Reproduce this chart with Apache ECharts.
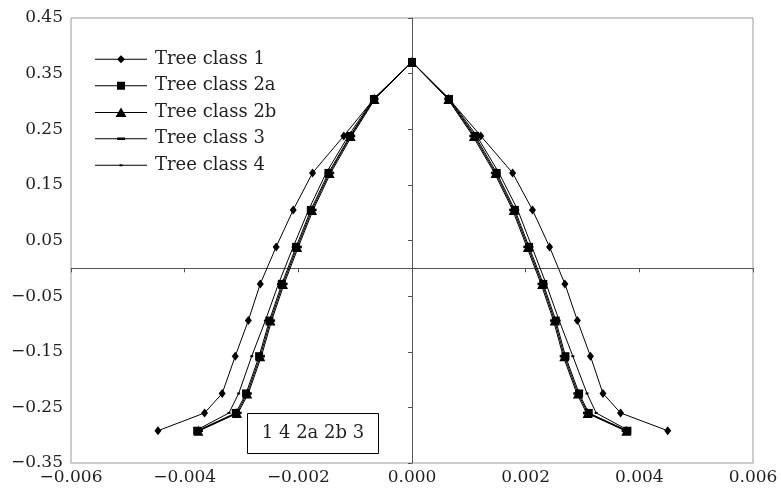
<!DOCTYPE html>
<html>
<head>
<meta charset="utf-8">
<script src="https://cdn.jsdelivr.net/npm/echarts@6/dist/echarts.min.js"></script>
<style>
  html, body { margin: 0; padding: 0; background: #fff; }
  #chart { width: 781px; height: 491px; }
</style>
</head>
<body>
<div id="chart"></div>
<script>
// Profile path: up the left flank, through the apex, down the right flank
const levelY = [-0.292, -0.260, -0.225, -0.158, -0.094, -0.028, 0.0385, 0.105, 0.1715, 0.238, 0.3045,
                0.371,
                0.3045, 0.238, 0.1715, 0.105, 0.0385, -0.028, -0.094, -0.158, -0.225, -0.260, -0.292];

const xClass1  = [-0.00447, -0.00365, -0.00334, -0.00311, -0.00288, -0.00267, -0.00239, -0.00209, -0.00175, -0.00120, -0.00067,
                  0,
                  0.00065, 0.00121, 0.00177, 0.00212, 0.00242, 0.00269, 0.00291, 0.00314, 0.00336, 0.00367, 0.00450];
const xClass2a = [-0.00378, -0.00310, -0.00292, -0.00269, -0.00251, -0.00229, -0.00204, -0.00178, -0.00147, -0.00109, -0.00067,
                  0,
                  0.00065, 0.00111, 0.00149, 0.00181, 0.00206, 0.00231, 0.00253, 0.00270, 0.00294, 0.00311, 0.00379];
const xClass2b = [-0.00376, -0.00308, -0.00290, -0.00267, -0.00249, -0.00227, -0.00202, -0.00176, -0.00145, -0.00108, -0.00066,
                  0,
                  0.00064, 0.00109, 0.00147, 0.00179, 0.00204, 0.00229, 0.00251, 0.00268, 0.00292, 0.00309, 0.00377];
const xClass3  = [-0.00374, -0.00306, -0.00288, -0.00265, -0.00247, -0.00225, -0.00200, -0.00174, -0.00143, -0.00106, -0.00065,
                  0,
                  0.00063, 0.00107, 0.00145, 0.00177, 0.00202, 0.00227, 0.00249, 0.00266, 0.00290, 0.00307, 0.00375];
const xClass4  = [-0.00381, -0.00322, -0.00305, -0.00282, -0.00258, -0.00235, -0.00209, -0.00182, -0.00151, -0.00112, -0.00068,
                  0,
                  0.00066, 0.00114, 0.00153, 0.00186, 0.00211, 0.00236, 0.00259, 0.00283, 0.00308, 0.00324, 0.00382];

const seriesNames = ['Tree class 1', 'Tree class 2a', 'Tree class 2b', 'Tree class 3', 'Tree class 4'];
const boxLabel = '1 4 2a 2b 3';

const xTicks = { min: -0.006, max: 0.006, step: 0.002 };
const yTicks = { min: -0.35, max: 0.45, step: 0.1 };

const FONT = 'DejaVu Serif';
const INK = '#231f20';

function pairs(xs) { return xs.map((x, i) => [x, levelY[i]]); }
function minusSign(s) { return s.replace('-', '\u2212'); }

const markers = [
  { symbol: 'diamond', size: [7, 9] },
  { symbol: 'rect', size: 8 },
  { symbol: 'triangle', size: 10 },
  { symbol: 'rect', size: [7, 2.5] },
  { symbol: 'rect', size: [3, 2] }
];
const xs = [xClass1, xClass2a, xClass2b, xClass3, xClass4];

// Legend keys: a 52px rule with the series marker at its middle
const RULE = 'M0 5.5 H52 V6.5 H0 Z ';
const legendIcons = [
  'path://' + RULE + 'M26 2 L30 6 L26 10 L22 6 Z',
  'path://' + RULE + 'M22 2 H30 V10 H22 Z',
  'path://' + RULE + 'M26 1 L31.5 10.5 L20.5 10.5 Z',
  'path://' + RULE + 'M22 4.75 H30 V7.25 H22 Z',
  'path://' + RULE + 'M24.5 5 H27.5 V7 H24.5 Z'
];

const chart = echarts.init(document.getElementById('chart'), null, { renderer: 'canvas' });

chart.setOption({
  animation: false,
  backgroundColor: '#fff',
  grid: { left: 71, right: 28, top: 18, bottom: 28, show: true, borderColor: '#9a9a9a', borderWidth: 1, containLabel: false },
  legend: {
    orient: 'vertical', left: 90, top: 45,
    itemWidth: 52, itemHeight: 12, itemGap: 8,
    symbolKeepAspect: true,
    itemStyle: { color: '#000', borderWidth: 0 },
    data: seriesNames.map((name, i) => ({ name, icon: legendIcons[i] })),
    textStyle: { fontFamily: FONT, fontSize: 18, color: INK, lineHeight: 18.5, padding: [0, 0, 0, 3] }
  },
  xAxis: [
    {
      type: 'value', position: 'bottom', min: xTicks.min, max: xTicks.max, interval: xTicks.step,
      axisLine: { show: false, onZero: false }, axisTick: { show: false }, splitLine: { show: false },
      axisLabel: { fontFamily: FONT, fontSize: 17, color: INK, margin: 6,
        formatter: v => minusSign(v.toFixed(3)) }
    },
    {
      type: 'value', position: 'bottom', min: xTicks.min, max: xTicks.max, interval: xTicks.step,
      axisLine: { show: true, onZero: true, onZeroAxisIndex: 0, lineStyle: { color: '#555', width: 1 } },
      axisTick: { show: true, length: 4, lineStyle: { color: '#555' } },
      axisLabel: { show: false }, splitLine: { show: false }
    }
  ],
  yAxis: [
    {
      type: 'value', position: 'left', min: yTicks.min, max: yTicks.max, interval: yTicks.step,
      axisLine: { show: false, onZero: false }, axisTick: { show: false }, splitLine: { show: false },
      axisLabel: { fontFamily: FONT, fontSize: 17, color: INK, margin: 8,
        formatter: v => minusSign(v.toFixed(2)) }
    },
    {
      type: 'value', position: 'left', min: yTicks.min, max: yTicks.max, interval: yTicks.step,
      axisLine: { show: true, onZero: true, onZeroAxisIndex: 0, lineStyle: { color: '#555', width: 1 } },
      axisTick: { show: true, length: 4, lineStyle: { color: '#555' } },
      axisLabel: { show: false }, splitLine: { show: false }
    }
  ],
  graphic: [{
    type: 'group', left: 247, top: 413, z: 100,
    children: [
      { type: 'rect', shape: { x: 0, y: 0, width: 131, height: 40 },
        style: { fill: '#fff', stroke: '#000', lineWidth: 1 } },
      { type: 'text', x: 65.5, y: 20,
        style: { text: boxLabel, font: '18px "' + FONT + '"', fill: INK, align: 'center', verticalAlign: 'middle' } }
    ]
  }],
  series: seriesNames.map((name, i) => ({
    name, type: 'line', xAxisIndex: 0, yAxisIndex: 0,
    data: pairs(xs[i]),
    symbol: markers[i].symbol, symbolSize: markers[i].size, showSymbol: true,
    lineStyle: { color: '#000', width: 1 },
    itemStyle: { color: '#000' },
    z: 10 - i
  }))
});
</script>
</body>
</html>
